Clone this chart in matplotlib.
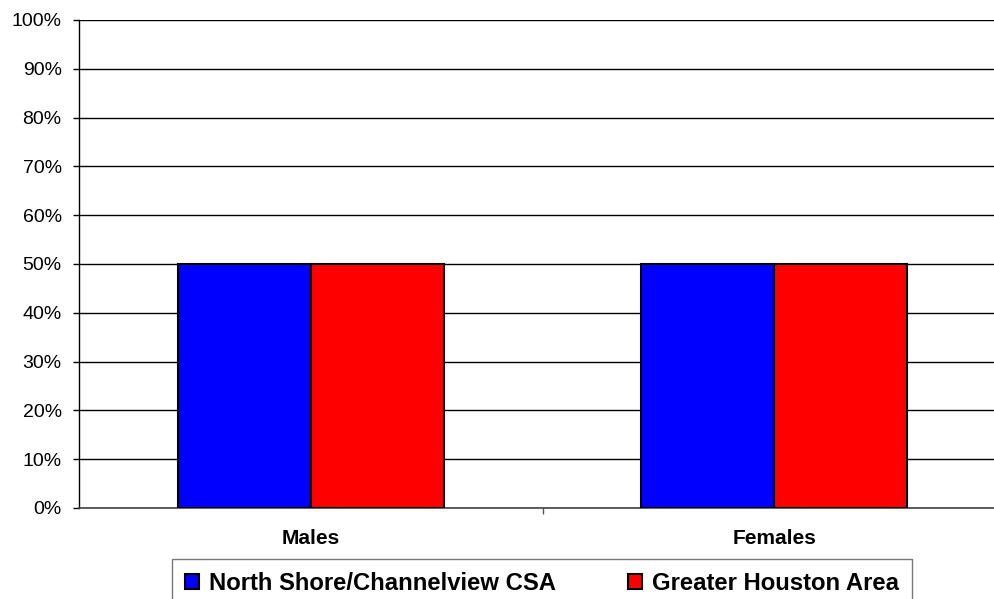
import numpy as np
import matplotlib.pyplot as plt
from matplotlib.ticker import FixedLocator, PercentFormatter

plt.rcParams['font.family'] = ['Liberation Sans', 'DejaVu Sans']

categories = ['Males', 'Females']
north_shore = [50, 50]
greater_houston = [50, 50]
series_names = ['North Shore/Channelview CSA', 'Greater Houston Area']

fig = plt.figure(figsize=(9.94, 5.99), dpi=100)
ax = fig.add_axes([79 / 994, 91 / 599, 927 / 994, 488 / 599])

x = np.arange(len(categories))
w = 0.287
ax.bar(x - w / 2, north_shore, w, color='#0000ff', edgecolor='black', linewidth=1.5,
       label=series_names[0], zorder=3)
ax.bar(x + w / 2, greater_houston, w, color='#ff0000', edgecolor='black', linewidth=1.5,
       label=series_names[1], zorder=3)

ax.set_xlim(-0.5, 1.5)
ax.set_ylim(0, 100)
ax.set_yticks(np.arange(0, 101, 10))
ax.yaxis.set_major_formatter(PercentFormatter(decimals=0))
ax.grid(axis='y', color='black', linewidth=1, zorder=0)

ax.set_xticks(x)
ax.set_xticklabels(categories, fontsize=15, fontweight='bold')
ax.tick_params(axis='x', which='major', length=0, pad=15)
ax.xaxis.set_minor_locator(FixedLocator([0.5, 1.5]))
ax.tick_params(axis='x', which='minor', length=4.5, width=1, color='#555555')
ax.tick_params(axis='y', length=4.5, width=1, labelsize=14, pad=8)

for s in ['top', 'right']:
    ax.spines[s].set_visible(False)
ax.spines['left'].set_linewidth(1)
ax.spines['bottom'].set_linewidth(1.2)
ax.spines['bottom'].set_color('#444444')

leg = fig.legend(loc='upper left', bbox_to_anchor=(172 / 994, 1 - 559 / 599), ncol=2,
                 prop={'size': 17.2, 'weight': 'bold'}, frameon=True, fancybox=False,
                 edgecolor='#555555', handlelength=0.6, handleheight=0.6,
                 handletextpad=0.4, columnspacing=3.0, borderpad=0.55, borderaxespad=0)
leg.get_frame().set_linewidth(1)
for h in leg.legend_handles:
    h.set_linewidth(1.5)

fig.savefig('out.png', dpi=100)
